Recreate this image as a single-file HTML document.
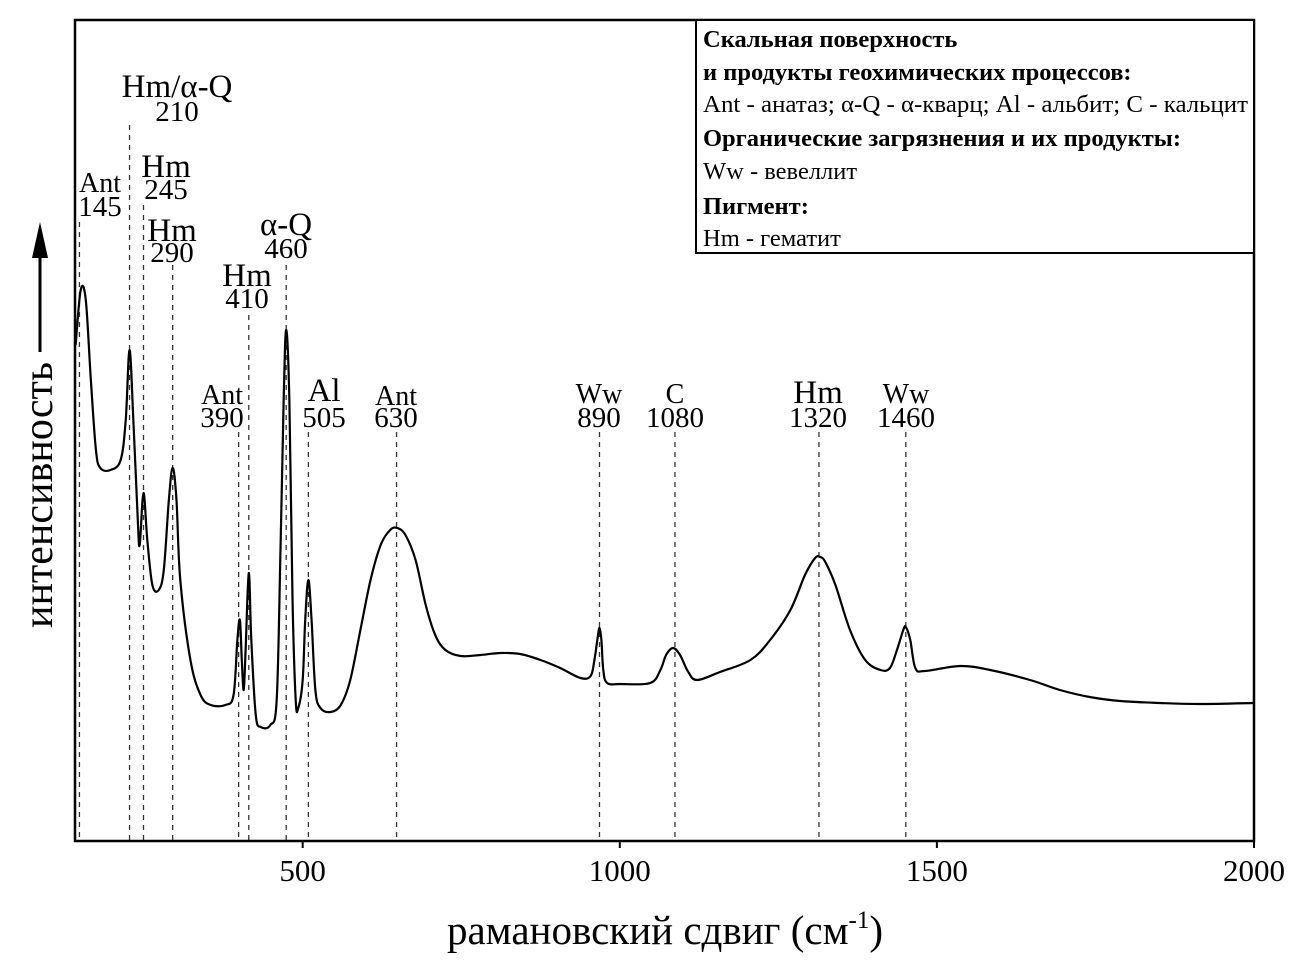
<!DOCTYPE html>
<html><head><meta charset="utf-8"><style>
body{margin:0;background:#fff;}
svg text{font-family:"Liberation Serif",serif;fill:#000;}
</style></head><body>
<svg id="chart" width="1289" height="972" viewBox="0 0 1289 972" xmlns="http://www.w3.org/2000/svg">
<g id="lines"></g>
<path id="spec" fill="none" stroke="#000" stroke-width="2.2"/>
<rect x="75" y="20" width="1179" height="821" fill="none" stroke="#000" stroke-width="2.5"/>
<g id="ticks"></g>
<g id="labels"></g>
<g>
<rect x="696" y="20" width="558" height="233" fill="#fff" stroke="#000" stroke-width="2"/>
<text x="703" y="47" font-size="24.5" font-weight="bold">Скальная поверхность</text>
<text x="703" y="80" font-size="24.5" font-weight="bold">и продукты геохимических процессов:</text>
<text x="703" y="112" font-size="24.5" textLength="545" lengthAdjust="spacingAndGlyphs">Ant - анатаз; α-Q - α-кварц; Al - альбит; C - кальцит</text>
<text x="703" y="146" font-size="24.5" font-weight="bold">Органические загрязнения и их продукты:</text>
<text x="703" y="179" font-size="24.5">Ww - вевеллит</text>
<text x="703" y="214" font-size="24.5" font-weight="bold">Пигмент:</text>
<text x="703" y="246" font-size="24.5">Hm - гематит</text>
</g>
<g>
<line x1="40" y1="352" x2="40" y2="250" stroke="#000" stroke-width="3"/>
<polygon points="40,222 32,258 48,258" fill="#000"/>
<text transform="translate(52,495) rotate(-90)" text-anchor="middle" font-size="42">интенсивность</text>
</g>
<text x="665" y="944" text-anchor="middle" font-size="41">рамановский сдвиг (см<tspan font-size="25" dy="-16">-1</tspan><tspan dy="16">)</tspan></text>
</svg>
<script>
const xs=[142,150,158,166,174,181,197,213,221,227,233,240,243,249,255,263,273,281,289,295,301,307,323,339,355,378,391,397,401,404,407,410,415,419,426,434,449,459,465,470,474,479,484,489,493,500,504,509,514,520,528,544,560,575,591,607,623,638,649,662,678,694,709,725,749,780,812,843,875,906,938,954,960,965,968,971,974,980,1001,1048,1064,1073,1084,1095,1108,1122,1158,1206,1237,1269,1292,1308,1316,1324,1340,1363,1387,1411,1426,1437,1447,1451,1458,1466,1481,1537,1584,1647,1694,1741,1789,1852,1915,2000];
const ys=[496,551,541,461,391,373,371,381,421,491,421,321,296,348,301,256,251,271,341,373,341,261,181,146,136,136,146,201,221,181,151,191,268,201,126,114,116,141,291,441,511,441,241,141,133,161,221,261,221,151,133,129,136,161,211,261,296,311,313,306,281,236,206,191,185,186,188,187,181,173,163,165,181,203,213,201,171,158,157,158,171,186,193,186,169,161,169,181,201,231,266,283,284,279,256,211,181,171,173,191,211,214,201,173,170,175,171,161,151,144,140,138,137,138];
const markerVals=[148,227,249,295,399,415,474,509,648,968,1087,1314,1451];
const markerTops=[222,125,205,265,432,315,265,432,432,432,432,432,432];
const tickVals=[500,1000,1500,2000];
const xMin=141,xMax=2000,X0=75,X1=1254;
const sx=v=>X0+(v-xMin)*(X1-X0)/(xMax-xMin);
const sy=v=>841-v;
const NS='http://www.w3.org/2000/svg';
let d='M'+sx(xs[0])+','+sy(ys[0]);
for(let i=0;i<xs.length-1;i++){
 const p0=[sx(xs[Math.max(i-1,0)]),sy(ys[Math.max(i-1,0)])],p1=[sx(xs[i]),sy(ys[i])],p2=[sx(xs[i+1]),sy(ys[i+1])],p3=[sx(xs[Math.min(i+2,xs.length-1)]),sy(ys[Math.min(i+2,xs.length-1)])];
 const t=0.17;
 d+=` C${p1[0]+(p2[0]-p0[0])*t},${p1[1]+(p2[1]-p0[1])*t} ${p2[0]-(p3[0]-p1[0])*t},${p2[1]-(p3[1]-p1[1])*t} ${p2[0]},${p2[1]}`;
}
document.getElementById('spec').setAttribute('d',d);
const lg=document.getElementById('lines');
markerVals.forEach((v,i)=>{const l=document.createElementNS(NS,'line');


l.setAttribute('x1',sx(v));l.setAttribute('x2',sx(v));l.setAttribute('y1',markerTops[i]);l.setAttribute('y2',841);
l.setAttribute('stroke','#333');l.setAttribute('stroke-width','1.3');l.setAttribute('stroke-dasharray','5,5');lg.appendChild(l);});
const tg=document.getElementById('ticks');
tickVals.forEach(v=>{const l=document.createElementNS(NS,'line');


l.setAttribute('x1',sx(v));l.setAttribute('x2',sx(v));l.setAttribute('y1',841);l.setAttribute('y2',848);l.setAttribute('stroke','#000');l.setAttribute('stroke-width','2');tg.appendChild(l);
const t=document.createElementNS(NS,'text');


t.setAttribute('x',sx(v));t.setAttribute('y',881);t.setAttribute('text-anchor','middle');t.setAttribute('font-size','31');t.textContent=v;tg.appendChild(t);});
const labs=[["Ant","145",100,192,216,28],["Hm/α-Q","210",177,97,121,33],["Hm","245",166,177,199,33],["Hm","290",172,241,262,33],["Hm","410",247,286,308,33],["α-Q","460",286,235,258,33],["Ant","390",222,404,427,28],["Al","505",324,401,427,33],["Ant","630",396,405,427,28],["Ww","890",599,403,427,28],["C","1080",675,403,427,28],["Hm","1320",818,403,427,33],["Ww","1460",906,403,427,28]];
const lb=document.getElementById('labels');
labs.forEach(a=>{
 const t=document.createElementNS(NS,'text');
 
 
 t.setAttribute('x',a[2]);t.setAttribute('y',a[3]);t.setAttribute('text-anchor','middle');t.setAttribute('font-size',a[5]);t.textContent=a[0];lb.appendChild(t);
 const n=document.createElementNS(NS,'text');
 
 
 n.setAttribute('x',a[2]);n.setAttribute('y',a[4]);n.setAttribute('text-anchor','middle');n.setAttribute('font-size','29');n.textContent=a[1];lb.appendChild(n);
});
</script>
</body></html>
